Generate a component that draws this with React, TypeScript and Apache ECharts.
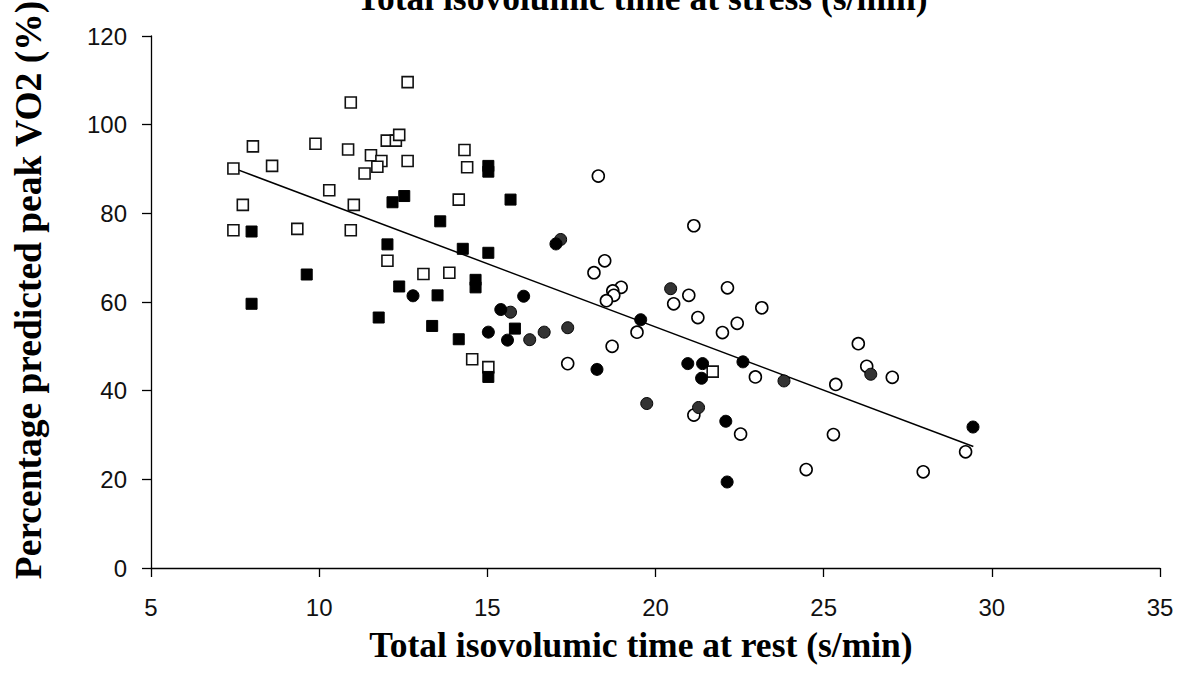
import React, { useEffect, useRef } from "react";
import * as echarts from "echarts";

const chartTitle = "Total isovolumic time at stress (s/min)";
const xTitle = "Total isovolumic time at rest (s/min)";
const yTitle = "Percentage predicted peak VO2 (%)";

const openSquares: number[][] = [
  [12.63, 109.6], [10.94, 105.0], [8.03, 95.1], [9.89, 95.7], [10.86, 94.4], [11.54, 93.1],
  [12.01, 96.4], [12.28, 96.4], [12.38, 97.7], [11.85, 91.8], [11.73, 90.5], [11.35, 89.0],
  [12.63, 91.8], [14.32, 94.3], [14.40, 90.4], [7.45, 90.1], [8.60, 90.7], [10.30, 85.2],
  [11.03, 81.9], [7.73, 81.9], [14.15, 83.1], [7.45, 76.2], [9.35, 76.5], [10.94, 76.2],
  [12.03, 69.3], [13.10, 66.3], [13.87, 66.6], [14.55, 47.1], [15.03, 45.3], [21.70, 44.3],
];

const filledSquares: number[][] = [
  [15.03, 90.7], [15.03, 89.4], [12.53, 83.9], [12.18, 82.5], [7.99, 75.9], [13.60, 78.2],
  [12.03, 73.0], [14.27, 72.0], [15.03, 71.1], [15.69, 83.1], [9.63, 66.2], [14.65, 65.0],
  [14.65, 63.3], [12.38, 63.5], [13.52, 61.5], [7.99, 59.6], [11.77, 56.5], [13.36, 54.6],
  [14.15, 51.6], [15.03, 43.1], [15.82, 54.0],
];

const openCircles: number[][] = [
  [17.39, 46.1], [18.30, 88.4], [18.49, 69.3], [18.17, 66.6], [18.98, 63.3], [18.73, 62.5],
  [18.76, 61.5], [18.54, 60.3], [20.54, 59.6], [19.45, 53.2], [18.71, 50.0], [21.14, 77.2],
  [20.99, 61.5], [22.14, 63.2], [23.16, 58.7], [21.26, 56.5], [22.43, 55.2], [21.99, 53.1],
  [22.97, 43.1], [26.03, 50.6], [26.28, 45.5], [25.36, 41.4], [21.14, 34.5], [22.53, 30.2],
  [25.29, 30.1], [24.48, 22.2], [27.04, 43.0], [29.22, 26.2], [27.96, 21.7],
];

const grayCircles: number[][] = [
  [15.69, 57.7], [16.26, 51.5], [16.69, 53.2], [17.39, 54.2], [19.74, 37.1], [17.18, 74.1],
  [20.45, 63.0], [23.82, 42.2], [26.40, 43.7], [21.28, 36.2],
];

const blackCircles: number[][] = [
  [12.79, 61.4], [15.03, 53.2], [16.08, 61.3], [15.40, 58.3], [15.60, 51.4], [18.26, 44.8],
  [17.04, 73.1], [19.56, 56.0], [20.96, 46.1], [21.40, 46.1], [21.37, 42.8], [22.60, 46.5],
  [22.09, 33.1], [22.13, 19.4], [29.44, 31.8],
];

const regressionLine: number[][] = [
  [7.45, 90.2],
  [29.45, 27.4],
];

const xTicks = { min: 5, max: 35, interval: 5 };
const yTicks = { min: 0, max: 120, interval: 20 };

export default function App() {
  const ref = useRef<HTMLDivElement>(null);

  useEffect(() => {
    if (!ref.current) return;
    const chart = echarts.init(ref.current, undefined, { renderer: "svg" });
    const serif = "'Liberation Serif', 'Times New Roman', serif";
    const sans = "'Liberation Sans', Arial, sans-serif";
    const axisCommon = {
      axisLine: { show: true, lineStyle: { color: "#000", width: 1.3 } },
      axisTick: { show: true, inside: false, length: 9, lineStyle: { color: "#000", width: 1.3 } },
      splitLine: { show: false },
    };
    const sq = { symbol: "rect", symbolSize: 11 };
    const ci = { symbol: "circle", symbolSize: 12 };
    chart.setOption({
      animation: false,
      backgroundColor: "#fff",
      grid: { left: 151, right: 18, top: 36, bottom: 123, containLabel: false },
      xAxis: {
        type: "value",
        min: xTicks.min,
        max: xTicks.max,
        interval: xTicks.interval,
        ...axisCommon,
        axisLabel: { margin: 27, fontSize: 24, color: "#111", fontFamily: sans },
      },
      yAxis: {
        type: "value",
        min: yTicks.min,
        max: yTicks.max,
        interval: yTicks.interval,
        ...axisCommon,
        axisLabel: { margin: 24, fontSize: 24, color: "#111", fontFamily: sans },
      },
      graphic: [
        {
          type: "text",
          x: 642,
          y: -2,
          style: {
            text: chartTitle,
            fontFamily: serif,
            fontWeight: "bold",
            fontSize: 35.5,
            fill: "#000",
            align: "center",
            verticalAlign: "middle",
          },
        },
        {
          type: "text",
          x: 641,
          y: 645,
          style: {
            text: xTitle,
            fontFamily: serif,
            fontWeight: "bold",
            fontSize: 35.5,
            fill: "#000",
            align: "center",
            verticalAlign: "middle",
          },
        },
        {
          type: "text",
          x: 28,
          y: 290,
          rotation: Math.PI / 2,
          style: {
            text: yTitle,
            fontFamily: serif,
            fontWeight: "bold",
            fontSize: 37.5,
            fill: "#000",
            align: "center",
            verticalAlign: "middle",
          },
        },
      ],
      series: [
        {
          type: "line",
          data: regressionLine,
          symbol: "none",
          lineStyle: { color: "#000", width: 1.5 },
          z: 1,
        },
        {
          type: "scatter",
          data: openSquares,
          ...sq,
          itemStyle: { color: "#fff", borderColor: "#111", borderWidth: 1.6, opacity: 1 },
          z: 2,
        },
        {
          type: "scatter",
          data: filledSquares,
          ...sq,
          itemStyle: { color: "#000", borderColor: "#000", borderWidth: 1, opacity: 1 },
          z: 3,
        },
        {
          type: "scatter",
          data: openCircles,
          ...ci,
          itemStyle: { color: "#fff", borderColor: "#000", borderWidth: 1.6, opacity: 1 },
          z: 4,
        },
        {
          type: "scatter",
          data: grayCircles,
          ...ci,
          itemStyle: { color: "#333", borderColor: "#000", borderWidth: 1, opacity: 1 },
          z: 5,
        },
        {
          type: "scatter",
          data: blackCircles,
          ...ci,
          itemStyle: { color: "#000", borderColor: "#000", borderWidth: 1, opacity: 1 },
          z: 6,
        },
      ],
    });
    return () => chart.dispose();
  }, []);

  return <div ref={ref} style={{ width: 1178, height: 691, position: "absolute", left: 0, top: 0 }} />;
}
